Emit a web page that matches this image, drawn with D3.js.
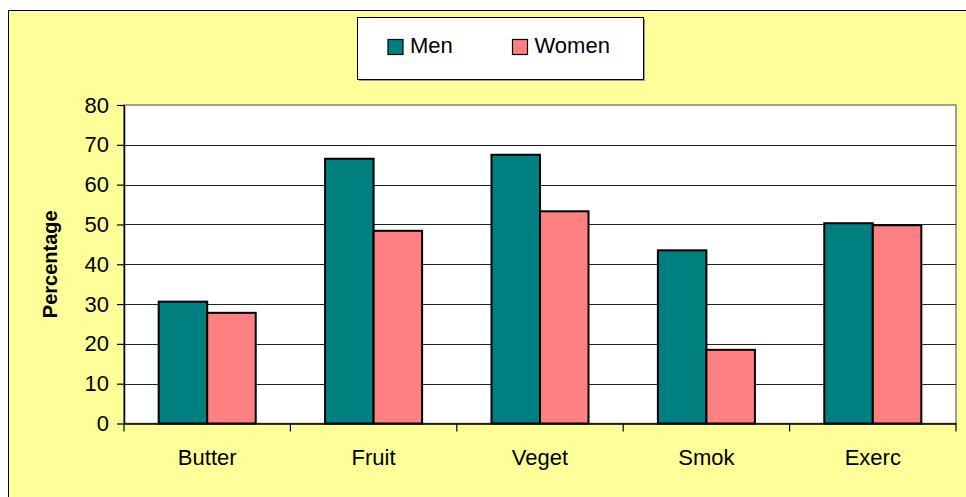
<!DOCTYPE html>
<html>
<head>
<meta charset="utf-8">
<script src="https://cdn.jsdelivr.net/npm/d3@7"></script>
<style>
  body { margin: 0; background: #fff; }
  svg { display: block; font-family: "Liberation Sans", Arial, sans-serif; }
</style>
</head>
<body>
<svg id="chart" width="966" height="497"></svg>
<script>
// chart data
const categories = ['Butter', 'Fruit', 'Veget', 'Smok', 'Exerc'];
const series = ['Men', 'Women'];
const menValues = [30.6, 66.5, 67.5, 43.5, 50.3];
const womenValues = [27.8, 48.4, 53.3, 18.5, 49.8];
const yTicks = [0, 10, 20, 30, 40, 50, 60, 70, 80];
const colors = ['#008080', '#FF8080'];

const svg = d3.select('svg#chart');
const width = 966;
const height = 497;

// plot area in pixels
const plot = { left: 124, top: 105, right: 956, bottom: 423.5 };

// yellow chart frame
svg.append('rect')
  .attr('x', 8.5).attr('y', 10.5)
  .attr('width', width + 20).attr('height', height + 20)
  .attr('fill', '#FFFF99')
  .attr('stroke', '#000').attr('stroke-width', 1);

const x0 = d3.scaleBand()
  .domain(categories)
  .range([plot.left, plot.right])
  .paddingInner(0)
  .paddingOuter(0);

const x1 = d3.scaleBand()
  .domain(series)
  .range([0, x0.bandwidth()])
  .paddingInner(0)
  .paddingOuter(0.715);

const y = d3.scaleLinear().domain([0, 80]).range([plot.bottom, plot.top]);

// plot background
svg.append('rect')
  .attr('x', plot.left).attr('y', plot.top)
  .attr('width', plot.right - plot.left).attr('height', plot.bottom - plot.top)
  .attr('fill', '#fff')
  .attr('stroke', '#808080').attr('stroke-width', 1.5);

// gridlines
svg.append('g')
  .selectAll('line')
  .data(yTicks.filter(d => d > 0 && d < 80))
  .enter()
  .append('line')
  .attr('x1', plot.left).attr('x2', plot.right)
  .attr('y1', d => Math.round(y(d)) + 0.5).attr('y2', d => Math.round(y(d)) + 0.5)
  .attr('stroke', '#222').attr('stroke-width', 1.2);

// bars
const rows = categories.map((c, i) => ({ cat: c, values: [menValues[i], womenValues[i]] }));
svg.append('g')
  .selectAll('g')
  .data(rows)
  .enter()
  .append('g')
  .attr('transform', d => `translate(${x0(d.cat)},0)`)
  .selectAll('rect')
  .data(d => d.values.map((v, j) => ({ key: series[j], value: v, color: colors[j] })))
  .enter()
  .append('rect')
  .attr('x', d => x1(d.key))
  .attr('width', x1.bandwidth())
  .attr('y', d => y(d.value))
  .attr('height', d => y(0) - y(d.value))
  .attr('fill', d => d.color)
  .attr('stroke', '#000')
  .attr('stroke-width', 2);

// y axis
const yAxis = svg.append('g')
  .attr('transform', `translate(${plot.left},0)`)
  .call(d3.axisLeft(y).tickValues(yTicks).tickSize(7).tickPadding(8).tickSizeOuter(0));
yAxis.select('.domain').attr('stroke', '#000').attr('stroke-width', 1.5);
yAxis.selectAll('.tick line').attr('stroke', '#000').attr('stroke-width', 1.2);
yAxis.selectAll('.tick text')
  .attr('font-size', 22).attr('fill', '#000')
  .attr('font-family', '"Liberation Sans", Arial, sans-serif');

// x axis
const xAxis = svg.append('g')
  .attr('transform', `translate(0,${plot.bottom})`)
  .call(d3.axisBottom(x0).tickSize(0).tickPadding(26).tickSizeOuter(0));
xAxis.select('.domain').attr('stroke', '#000').attr('stroke-width', 1.5);
xAxis.selectAll('.tick text')
  .attr('font-size', 22).attr('fill', '#000')
  .attr('font-family', '"Liberation Sans", Arial, sans-serif');

// category separator ticks
svg.append('g')
  .selectAll('line')
  .data(categories.map(c => x0(c)).concat([plot.right]))
  .enter()
  .append('line')
  .attr('x1', d => d).attr('x2', d => d)
  .attr('y1', plot.bottom).attr('y2', plot.bottom + 8)
  .attr('stroke', '#000').attr('stroke-width', 1.2);

// y label
svg.append('text')
  .attr('transform', `translate(57,${(plot.top + plot.bottom) / 2}) rotate(-90)`)
  .attr('text-anchor', 'middle')
  .attr('font-size', 20)
  .attr('font-weight', 'bold')
  .text('Percentage');

// legend
const legend = svg.append('g');
legend.append('rect')
  .attr('x', 359).attr('y', 19)
  .attr('width', 286).attr('height', 62)
  .attr('fill', '#999');
legend.append('rect')
  .attr('x', 357.5).attr('y', 17.5)
  .attr('width', 286).attr('height', 62)
  .attr('fill', '#fff')
  .attr('stroke', '#000').attr('stroke-width', 1);

const legendX = [388, 512.5];
series.forEach((s, i) => {
  legend.append('rect')
    .attr('x', legendX[i]).attr('y', 39.5)
    .attr('width', 15).attr('height', 15)
    .attr('fill', colors[i])
    .attr('stroke', '#000').attr('stroke-width', 1.2);
  legend.append('text')
    .attr('x', legendX[i] + 22).attr('y', 52.5)
    .attr('font-size', 22)
    .text(s);
});
</script>
</body>
</html>
